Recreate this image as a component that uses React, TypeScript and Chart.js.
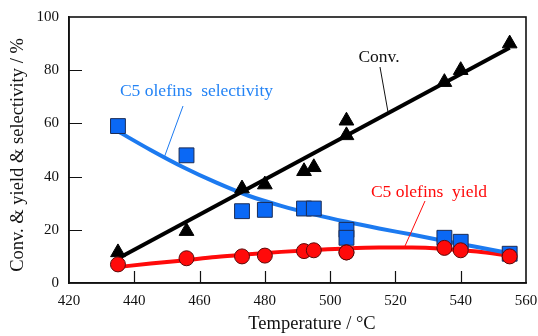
import React, { useEffect, useRef } from 'react';
import { Chart, registerables } from 'chart.js';

Chart.register(...registerables);

// Measured points
const temps = [435, 456, 473, 480, 492, 495, 505, 505, 535, 540, 555];
const conversion = [11.5, 19.5, 35.5, 37, 42, 43.5, 61, 55.5, 75.5, 80, 90];
const selectivity = [59, 48, 27, 27.5, 28, 28, 20, 17, 17, 15.5, 11];
const yieldVals = [7, 9.3, 10, 10.3, 12, 12.3, 11.5, 11.5, 13.2, 12.3, 10];

// Fitted curves
const fitTemps = [435, 445, 455, 465, 475, 485, 495, 505, 515, 525, 535, 545, 555];
const selectivityFit = [57, 50, 43.5, 37.8, 32.8, 29, 25.8, 23, 20.5, 18.2, 15.8, 13.5, 11.2];
const yieldFit = [6, 7.3, 8.5, 9.8, 10.8, 11.7, 12.4, 13, 13.3, 13.3, 12.8, 11.8, 10.3];
const convFitTemps = [435, 555];
const convFit = [9.2, 88.4];

const xTicks = [420, 440, 460, 480, 500, 520, 540, 560];
const yTicks = [0, 20, 40, 60, 80, 100];

const xTitle = 'Temperature / °C';
const yTitle = 'Conv. & yield & selectivity / %';
const convLabel = 'Conv.';
const selLabel = 'C5 olefins  selectivity';
const yieldLabel = 'C5 olefins  yield';

const FONT = "'Liberation Serif', 'Times New Roman', serif";
const BLUE_FILL = '#0a68f5';
const BLUE_LINE = '#1c7af0';
const BLUE_TEXT = '#2383f5';
const RED = '#ff0a0a';

const pts = (xs: number[], ys: number[]) => xs.map((x, i) => ({ x, y: ys[i] }));

const decorPlugin = {
  id: 'decor',
  afterDraw(chart: any) {
    const { ctx, chartArea, scales } = chart;
    const { left, right, top, bottom } = chartArea;
    const xs = scales.x;
    const ys = scales.y;
    ctx.save();
    // frame
    ctx.strokeStyle = '#111';
    ctx.lineWidth = 1.6;
    ctx.strokeRect(left, top, right - left, bottom - top);
    // inner ticks
    ctx.lineWidth = 1.2;
    ctx.beginPath();
    xTicks.slice(1, -1).forEach((t) => {
      const px = Math.round(xs.getPixelForValue(t)) + 0.5;
      ctx.moveTo(px, bottom);
      ctx.lineTo(px, bottom - 12);
    });
    yTicks.slice(1, -1).forEach((t) => {
      const py = Math.round(ys.getPixelForValue(t)) + 0.5;
      ctx.moveTo(left, py);
      ctx.lineTo(left + 13, py);
    });
    ctx.stroke();

    // axis titles
    ctx.fillStyle = '#111';
    ctx.font = `18.5px ${FONT}`;
    ctx.textAlign = 'center';
    ctx.textBaseline = 'middle';
    ctx.fillText(xTitle, 312, 324);
    ctx.save();
    ctx.translate(18, 155);
    ctx.rotate(-Math.PI / 2);
    ctx.fillText(yTitle, 0, 0);
    ctx.restore();

    // annotations
    ctx.font = `17.5px ${FONT}`;
    // Conv.
    ctx.fillStyle = '#111';
    ctx.fillText(convLabel, 379, 57);
    ctx.strokeStyle = '#111';
    ctx.lineWidth = 1;
    ctx.beginPath();
    ctx.moveTo(380, 67);
    ctx.lineTo(388, 112);
    ctx.stroke();
    // selectivity
    ctx.fillStyle = BLUE_TEXT;
    ctx.fillText(selLabel, 196.5, 91);
    ctx.strokeStyle = BLUE_LINE;
    ctx.beginPath();
    ctx.moveTo(183, 106);
    ctx.lineTo(164, 158);
    ctx.stroke();
    // yield
    ctx.fillStyle = RED;
    ctx.fillText(yieldLabel, 429, 192);
    ctx.strokeStyle = RED;
    ctx.beginPath();
    ctx.moveTo(425, 201);
    ctx.lineTo(405, 246);
    ctx.stroke();
    ctx.restore();
  },
};

export default function App() {
  const ref = useRef<HTMLCanvasElement | null>(null);
  useEffect(() => {
    if (!ref.current) return;
    const chart = new Chart(ref.current, {
      type: 'scatter',
      data: {
        datasets: [
          {
            label: 'Conv. fit',
            type: 'line',
            data: pts(convFitTemps, convFit),
            borderColor: '#000',
            borderWidth: 4,
            pointRadius: 0,
            fill: false,
            order: 10,
          },
          {
            label: 'Selectivity fit',
            type: 'line',
            data: pts(fitTemps, selectivityFit),
            borderColor: BLUE_LINE,
            borderWidth: 4,
            pointRadius: 0,
            cubicInterpolationMode: 'monotone',
            fill: false,
            order: 11,
          },
          {
            label: 'Yield fit',
            type: 'line',
            data: pts(fitTemps, yieldFit),
            borderColor: RED,
            borderWidth: 4,
            pointRadius: 0,
            cubicInterpolationMode: 'monotone',
            fill: false,
            order: 12,
          },
          {
            label: 'Conv.',
            data: pts(temps, conversion),
            pointStyle: 'triangle',
            pointRadius: 8.5,
            backgroundColor: '#000',
            borderColor: '#000',
            borderWidth: 1,
            order: 3,
          },
          {
            label: 'C5 olefins selectivity',
            data: pts(temps, selectivity),
            pointStyle: 'rect',
            pointRadius: 10.5,
            backgroundColor: BLUE_FILL,
            borderColor: '#1b2c55',
            borderWidth: 1,
            order: 2,
          },
          {
            label: 'C5 olefins yield',
            data: pts(temps, yieldVals),
            pointStyle: 'circle',
            pointRadius: 7.5,
            backgroundColor: RED,
            borderColor: '#5a0a0a',
            borderWidth: 1,
            order: 1,
          },
        ],
      } as any,
      options: {
        animation: false,
        responsive: false,
        maintainAspectRatio: false,
        layout: { padding: { top: 17, right: 12, left: 0, bottom: 0 } },
        plugins: {
          legend: { display: false },
          tooltip: { enabled: false },
        },
        scales: {
          x: {
            type: 'linear',
            min: 420,
            max: 560,
            afterBuildTicks: (s: any) => {
              s.ticks = xTicks.map((v) => ({ value: v }));
            },
            afterFit: (s: any) => {
              s.height = 53;
              s.paddingLeft = 0;
              s.paddingRight = 0;
            },
            grid: { display: false, drawTicks: false },
            border: { display: true, color: '#111', width: 1.6 },
            ticks: {
              padding: 9,
              color: '#111',
              font: { family: FONT, size: 15 },
            },
          },
          y: {
            type: 'linear',
            min: 0,
            max: 100,
            afterBuildTicks: (s: any) => {
              s.ticks = yTicks.map((v) => ({ value: v }));
            },
            afterFit: (s: any) => {
              s.width = 69;
              s.paddingTop = 0;
              s.paddingBottom = 0;
            },
            grid: { display: false, drawTicks: false },
            border: { display: true, color: '#111', width: 1.6 },
            ticks: {
              padding: 10,
              color: '#111',
              font: { family: FONT, size: 15 },
            },
          },
        },
      } as any,
      plugins: [decorPlugin],
    });
    return () => chart.destroy();
  }, []);
  return (
    <div style={{ position: 'fixed', left: 0, top: 0, width: 538, height: 336, background: '#fff' }}>
      <canvas ref={ref} width={538} height={336} style={{ display: 'block', width: 538, height: 336 }} />
    </div>
  );
}
